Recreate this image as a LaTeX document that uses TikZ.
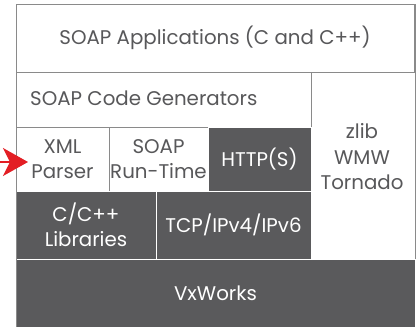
\documentclass[tikz,border=0pt]{standalone}
\usepackage{fontspec}
\setmainfont{Poppins}
\usetikzlibrary{arrows.meta,positioning}
\definecolor{darkcell}{HTML}{5A5A5C}
\definecolor{linegray}{HTML}{8A8A8A}
\definecolor{txtgray}{HTML}{58585A}
\definecolor{arrred}{HTML}{E31E24}
\tikzset{
  cell/.style={anchor=north west, inner sep=0pt, outer sep=0pt, draw=linegray, line width=0.9pt, fill=white, text=txtgray, align=center, font=\fontsize{19.8}{25.5}\selectfont},
  darkcellstyle/.style={cell, fill=darkcell, draw=white, text=white},
  lbl/.style={inner sep=0pt, text=txtgray, align=center, font=\fontsize{19.8}{25.5}\selectfont},
}
\begin{document}
\begin{tikzpicture}[x=1pt,y=1pt]
\useasboundingbox (0,0) rectangle (416,-327);
\fill[white] (0,0) rectangle (416,-327);
\node[cell, minimum width=398pt, minimum height=68pt] (app) at (16,-4) {SOAP Applications (C and C++)};
\node[cell, minimum width=295pt, minimum height=55pt] (gen) at (16,-72) {};
\node[cell, minimum width=104pt, minimum height=187pt] (zlib) at (311,-72) {};
\node[cell, minimum width=93pt, minimum height=64pt] (xml) at (16,-127) {XML\\Parser};
\node[cell, minimum width=99pt, minimum height=64pt] (rt) at (109,-127) {SOAP\\Run-Time};
\node[darkcellstyle, minimum width=103pt, minimum height=64pt] (http) at (208,-127) {HTTP(S)};
\node[darkcellstyle, minimum width=140pt, minimum height=68pt] (lib) at (16,-191) {C/C++\\Libraries};
\node[darkcellstyle, minimum width=155pt, minimum height=68pt] (tcp) at (156,-191) {TCP/IPv4/IPv6};
\node[darkcellstyle, minimum width=399pt, minimum height=69pt] (vx) at (16,-259) {VxWorks};
\node[lbl, anchor=west] (gentxt) at ([xshift=14pt,yshift=1pt]gen.west) {SOAP Code Generators};
\node[lbl] (zlibtxt) at (362,-157) {zlib\\WMW\\Tornado};
\draw[linegray, line width=0.9pt] (16,-4) -- (16,-327);
\draw[linegray, line width=0.9pt] (415,-4) -- (415,-259);
\coordinate (arrstart) at (0,-162);
\draw[arrred, line width=1.5pt, -{Stealth[length=25pt, width=28pt, inset=7pt]}] (arrstart) -- ([xshift=12pt,yshift=-3pt]xml.west);
\end{tikzpicture}
\end{document}
